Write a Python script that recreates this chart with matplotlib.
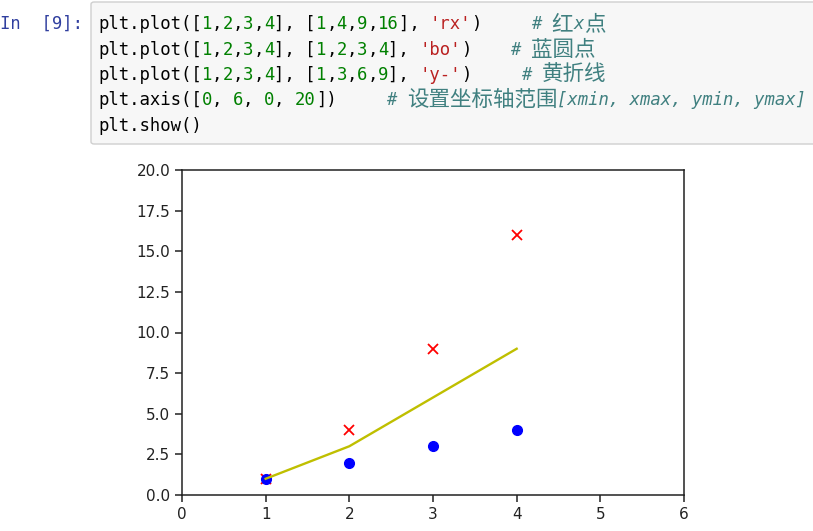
import re
import numpy as np
import matplotlib.pyplot as plt
from matplotlib.patches import FancyBboxPatch

# data from the notebook cell
x = [1, 2, 3, 4]
y_red = [1, 4, 9, 16]
y_blue = [1, 2, 3, 4]
y_yellow = [1, 3, 6, 9]
x_ticks = [0, 1, 2, 3, 4, 5, 6]
y_ticks = [0, 2.5, 5, 7.5, 10, 12.5, 15, 17.5, 20]

code_lines = [
    "plt.plot([1,2,3,4], [1,4,9,16], 'rx')",
    "plt.plot([1,2,3,4], [1,2,3,4], 'bo')",
    "plt.plot([1,2,3,4], [1,3,6,9], 'y-')",
    "plt.axis([0, 6, 0, 20])",
    "plt.show()",
]
comments = ["# 红x点", "# 蓝圆点", "# 黄折线", "# 设置坐标轴范围[xmin, xmax, ymin, ymax]", ""]
comment_x = [531, 510, 521, 386, 0]
line_y = [29, 55, 80, 105, 131]  # baselines in pixels

W, H = 813, 531
fig = plt.figure(figsize=(8.13, 5.31), dpi=100)


def fx(px):
    return px / W


def fy(py):
    return 1 - py / H


# code cell box
box = FancyBboxPatch((fx(91), fy(144)), fx(840) - fx(91), fy(2) - fy(144),
                     boxstyle='round,pad=0,rounding_size=0.004',
                     transform=fig.transFigure, fc='#f7f7f7', ec='#cfcfcf', lw=1)
fig.patches.append(box)

fs = 12.4
cw = 0.602 * fs * 100 / 72  # monospace char width in px
fs_cjk = 15.5
cjk_w = fs_cjk * 100 / 72   # CJK glyph is one em wide
mono = ['DejaVu Sans Mono', 'Noto Sans CJK SC']

fig.text(fx(0), fy(line_y[0]), 'In  [9]:', color='#303F9F', fontsize=fs,
         family=mono, va='baseline', ha='left')


def tokens(s):
    for m in re.finditer(r"'[^']*'|\d+|[^'\d]+", s):
        t = m.group()
        if t[0] == "'":
            c = '#BA2121'
        elif t.isdigit():
            c = '#008000'
        else:
            c = 'black'
        yield m.start(), t, c


for line, com, cx, by in zip(code_lines, comments, comment_x, line_y):
    for col, t, c in tokens(line):
        fig.text(fx(98 + col * cw), fy(by), t, color=c, fontsize=fs,
                 family=mono, va='baseline', ha='left')
    # comment: latin runs in mono, CJK runs a bit larger
    px = cx
    for run in re.findall(r"[\u4e00-\u9fff]+|[^\u4e00-\u9fff]+", com):
        if '\u4e00' <= run[0] <= '\u9fff':
            fig.text(fx(px), fy(by + 1), run, color='#408080', fontsize=fs_cjk,
                     family='Noto Sans CJK SC', va='baseline', ha='left')
            px += len(run) * cjk_w
        else:
            fig.text(fx(px), fy(by), run, color='#408080', fontsize=fs,
                     family=mono, style='italic', va='baseline', ha='left')
            px += len(run) * cw

# the plot
ax = fig.add_axes([fx(182), fy(495), fx(684) - fx(182), fy(170) - fy(495)])
ax.plot(x, y_red, 'rx', ms=6.5, mew=1.3)
ax.plot(x, y_blue, 'bo', ms=7)
ax.plot(x, y_yellow, 'y-', lw=1.7)
ax.axis([0, 6, 0, 20])
ax.set_xticks(x_ticks)
ax.set_yticks(y_ticks)
ax.tick_params(labelsize=11, length=5, width=1.1, colors='#222222')
for s in ax.spines.values():
    s.set_linewidth(1.1)
    s.set_color('#222222')

fig.savefig('out.png', dpi=100)
